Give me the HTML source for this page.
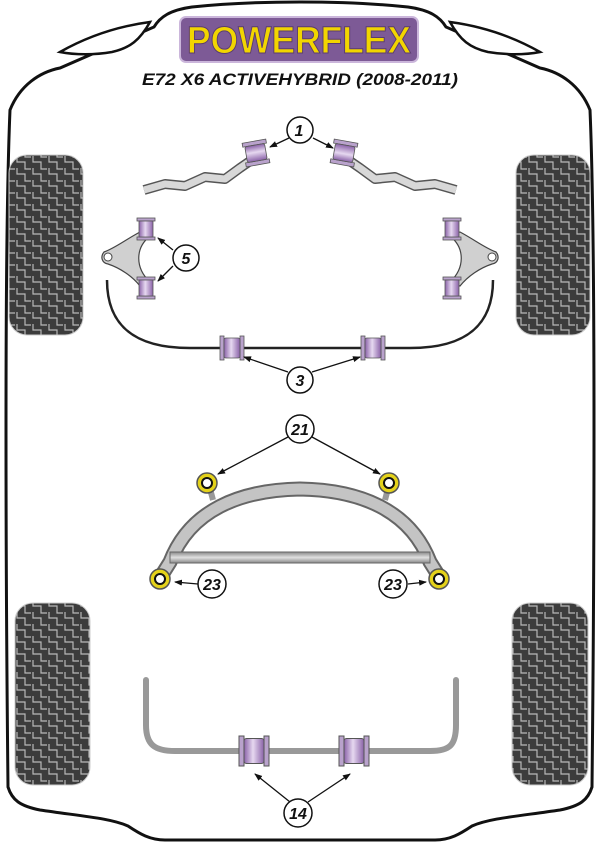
<!DOCTYPE html>
<html><head><meta charset="utf-8"><style>
html,body{margin:0;padding:0;background:#fff;}
svg{display:block}
text{font-family:"Liberation Sans",sans-serif;font-weight:bold;font-style:italic;}
</style></head><body>
<svg width="600" height="848" viewBox="0 0 600 848" xmlns="http://www.w3.org/2000/svg">
<defs>
<pattern id="tread" width="16" height="12" patternUnits="userSpaceOnUse">
<rect width="16" height="12" fill="#3c3c3c"/>
<path d="M1 0 V6 H9 V12 M9 0 V1 H15" stroke="#b8b8b8" stroke-width="1.2" fill="none"/>
</pattern>
<linearGradient id="pur" x1="0" x2="1"><stop offset="0" stop-color="#8a62a8"/><stop offset="0.45" stop-color="#e6d8f0"/><stop offset="1" stop-color="#8a62a8"/></linearGradient>
<linearGradient id="bar" x1="0" y1="0" x2="0" y2="1"><stop offset="0" stop-color="#888"/><stop offset="0.5" stop-color="#e0e0e0"/><stop offset="1" stop-color="#888"/></linearGradient>
<g id="bush"><rect x="-12" y="-12" width="4" height="24" fill="#b9a2cc" stroke="#555" stroke-width="0.8"/><rect x="8" y="-12" width="4" height="24" fill="#b9a2cc" stroke="#555" stroke-width="0.8"/><rect x="-8" y="-10" width="16" height="20" rx="2" fill="url(#pur)" stroke="#555" stroke-width="0.8"/></g>
<g id="vb"><rect x="-9" y="-11" width="18" height="3" fill="#b9a2cc" stroke="#555" stroke-width="0.8"/><rect x="-9" y="8" width="18" height="3" fill="#b9a2cc" stroke="#555" stroke-width="0.8"/><rect x="-7" y="-8" width="14" height="16" fill="url(#pur)" stroke="#555" stroke-width="0.8"/></g>
<g id="yb"><circle r="10" fill="#e4d21a" stroke="#555" stroke-width="1.5"/><circle r="5" fill="#fff" stroke="#111" stroke-width="2"/></g>
<marker id="ar" markerWidth="8" markerHeight="8" refX="7" refY="4" orient="auto" markerUnits="userSpaceOnUse"><path d="M0 1 L8 4 L0 7 Z" fill="#111"/></marker>
</defs>
<!-- body outline -->
<path d="M10 110 C 4 250, 6 600, 8 787 C 12 800, 20 806, 40 810 C 80 816, 110 818, 128 826 C 140 834, 150 840, 165 840 L 435 840 C 450 840, 460 834, 472 826 C 490 818, 520 816, 560 810 C 580 806, 588 800, 592 787 C 594 600, 596 250, 590 110 C 580 85, 560 72, 540 68 L 446 27 C 440 17, 430 10, 408 7 C 370 3, 330 2, 300 2 C 270 2, 230 3, 192 7 C 170 10, 160 17, 154 27 L 60 68 C 40 72, 20 85, 10 110 Z" fill="none" stroke="#111" stroke-width="3"/>
<path d="M60 52 C 90 35, 120 26, 150 22 C 140 40, 130 48, 112 52 C 95 55, 75 55, 60 52 Z" fill="#fff" stroke="#111" stroke-width="2.5"/>
<path d="M540 52 C 510 35, 480 26, 450 22 C 460 40, 470 48, 488 52 C 505 55, 525 55, 540 52 Z" fill="#fff" stroke="#111" stroke-width="2.5"/>
<!-- logo -->
<rect x="180" y="17" width="238" height="45" rx="6" fill="#7d5a96" stroke="#cbb6db" stroke-width="2"/>
<text x="299" y="53" text-anchor="middle" font-size="38" fill="#f2d500" stroke="#5a3c70" stroke-width="1" textLength="224" lengthAdjust="spacingAndGlyphs" style="font-style:normal">POWERFLEX</text>
<text x="300" y="85" text-anchor="middle" font-size="17" fill="#111" textLength="316" lengthAdjust="spacingAndGlyphs">E72 X6 ACTIVEHYBRID (2008-2011)</text>
<!-- tyres -->
<rect x="9" y="155" width="74" height="180" rx="18" fill="url(#tread)" stroke="#ccc"/>
<rect x="516" y="155" width="74" height="180" rx="18" fill="url(#tread)" stroke="#ccc"/>
<rect x="15" y="603" width="75" height="182" rx="18" fill="url(#tread)" stroke="#ccc"/>
<rect x="512" y="603" width="76" height="182" rx="18" fill="url(#tread)" stroke="#ccc"/>
<!-- front bar 1 -->
<path d="M144 190 L165 184 L185 186 L205 177 L225 179 L240 168 L256 157" fill="none" stroke="#555" stroke-width="10" stroke-linejoin="round"/>
<path d="M144 190 L165 184 L185 186 L205 177 L225 179 L240 168 L256 157" fill="none" stroke="#d8d8d8" stroke-width="7" stroke-linejoin="round"/>
<path d="M456 190 L435 184 L415 186 L395 177 L375 179 L360 168 L344 157" fill="none" stroke="#555" stroke-width="10" stroke-linejoin="round"/>
<path d="M456 190 L435 184 L415 186 L395 177 L375 179 L360 168 L344 157" fill="none" stroke="#d8d8d8" stroke-width="7" stroke-linejoin="round"/>
<g transform="translate(256,153) rotate(80)"><use href="#bush"/></g>
<g transform="translate(344,153) rotate(-80)"><use href="#bush"/></g>
<!-- arms 5 -->
<path d="M140 232 C 125 240, 115 248, 104 252 C 100 257, 102 263, 108 264 C 120 268, 132 276, 140 286 L 150 282 C 135 268, 135 248, 150 236 Z" fill="#d0d0d0" stroke="#444" stroke-width="1.2"/>
<circle cx="108" cy="257" r="4" fill="#fff" stroke="#444"/>
<path d="M460 232 C 475 240, 485 248, 496 252 C 500 257, 498 263, 492 264 C 480 268, 468 276, 460 286 L 450 282 C 465 268, 465 248, 450 236 Z" fill="#d0d0d0" stroke="#444" stroke-width="1.2"/>
<circle cx="492" cy="257" r="4" fill="#fff" stroke="#444"/>
<use href="#vb" x="146" y="229"/><use href="#vb" x="146" y="288"/>
<use href="#vb" x="452" y="229"/><use href="#vb" x="452" y="288"/>
<!-- ARB 3 -->
<path d="M107 280 C 107 322, 130 348, 190 348 L 410 348 C 470 348, 493 322, 493 280" fill="none" stroke="#222" stroke-width="2.5"/>
<use href="#bush" x="232" y="348"/><use href="#bush" x="373" y="348"/>
<!-- subframe -->
<path d="M160 578 L 170 562 C 190 510, 240 490, 300 489 C 360 490, 410 510, 430 562 L 440 578" fill="none" stroke="#666" stroke-width="15"/>
<path d="M160 578 L 170 562 C 190 510, 240 490, 300 489 C 360 490, 410 510, 430 562 L 440 578" fill="none" stroke="#c4c4c4" stroke-width="11"/>
<rect x="170" y="552" width="260" height="11" fill="url(#bar)" stroke="#666"/>
<path d="M209 485 L 213 500 M 389 485 L 385 500" stroke="#999" stroke-width="6"/>
<use href="#yb" x="207" y="483"/><use href="#yb" x="389" y="483"/>
<use href="#yb" x="160" y="579"/><use href="#yb" x="439" y="579"/>
<!-- ARB 14 -->
<path d="M146 680 L146 725 C 146 745, 155 751, 175 751 L 430 751 C 450 751, 456 745, 456 725 L 456 680" fill="none" stroke="#999" stroke-width="6" stroke-linecap="round"/>
<use href="#bush" x="254" y="751" transform="translate(254,751) scale(1.25) translate(-254,-751)"/>
<use href="#bush" x="354" y="751" transform="translate(354,751) scale(1.25) translate(-354,-751)"/>
<!-- arrows -->
<g stroke="#111" stroke-width="1.3" fill="none" marker-end="url(#ar)">
<path d="M289 138 L270 147"/><path d="M313 138 L333 148"/>
<path d="M173 250 L158 238"/><path d="M173 266 L158 281"/>
<path d="M288 372 L244 357"/><path d="M312 372 L360 357"/>
<path d="M288 437 L218 474"/><path d="M312 437 L380 474"/>
<path d="M198 584 L175 582"/><path d="M408 584 L426 582"/>
<path d="M290 802 L255 774"/><path d="M308 802 L350 774"/>
</g>
<!-- bubbles -->
<g fill="#fff" stroke="#111" stroke-width="1.5">
<circle cx="300" cy="130" r="13"/><circle cx="186" cy="258" r="13"/><circle cx="300" cy="380" r="13"/>
<circle cx="300" cy="429" r="14"/><circle cx="212" cy="584" r="14"/><circle cx="393" cy="584" r="14"/>
<circle cx="298" cy="813" r="14"/>
</g>
<g font-size="16" fill="#111" text-anchor="middle">
<text x="299" y="136">1</text><text x="186" y="264">5</text><text x="300" y="386">3</text>
<text x="300" y="435">21</text><text x="212" y="590">23</text><text x="393" y="590">23</text>
<text x="298" y="819">14</text>
</g>
</svg>
</body></html>
